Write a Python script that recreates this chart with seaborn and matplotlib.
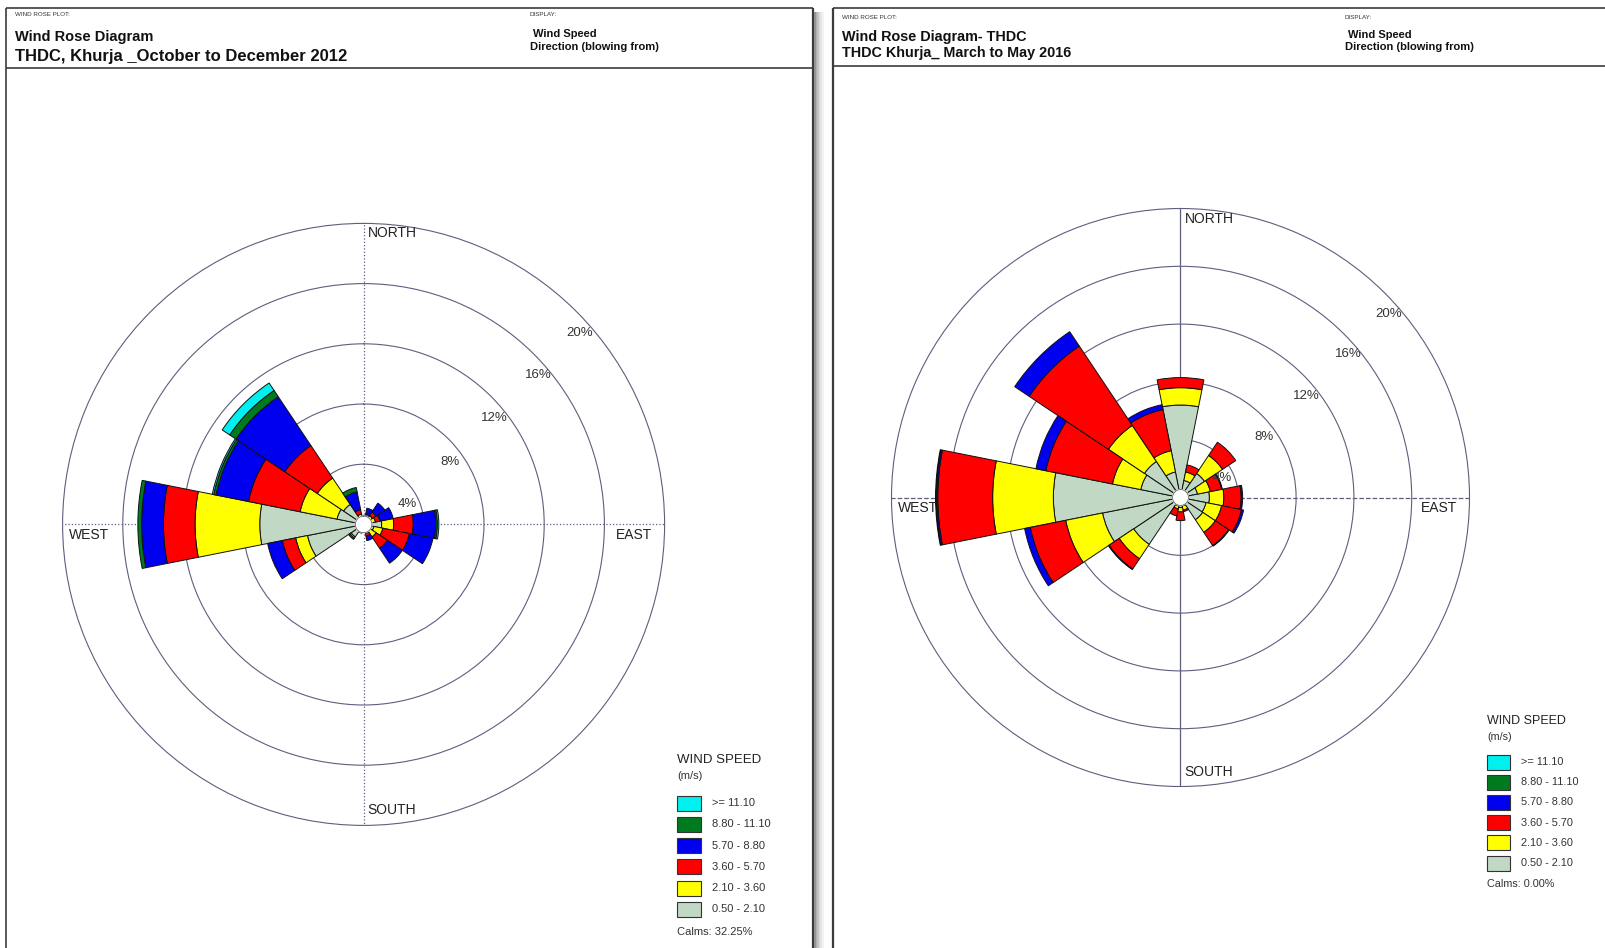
import numpy as np
import matplotlib
matplotlib.use("Agg")
import matplotlib.pyplot as plt
from matplotlib.patches import Rectangle
from matplotlib.lines import Line2D
import seaborn as sns

sns.set_style("white")
plt.rcParams["font.family"] = ["Liberation Sans", "DejaVu Sans"]

# ---------------------------------------------------------------------------
# Data: frequency (%) per 22.5 degree sector, one list per wind-speed class
# ---------------------------------------------------------------------------
directions = ["N", "NNE", "NE", "ENE", "E", "ESE", "SE", "SSE",
              "S", "SSW", "SW", "WSW", "W", "WNW", "NW", "NNW"]

# wind speed classes (m/s), innermost (slowest) first
speed_labels = ["0.50 - 2.10", "2.10 - 3.60", "3.60 - 5.70",
                "5.70 - 8.80", "8.80 - 11.10", ">= 11.10"]
speed_colors = ["#c0d8c4", "#ffff00", "#ff0000", "#0000f0", "#007a1e", "#00f0f0"]

# Khurja, October to December 2012
oct_dec_0_5 = [0.3, 0.3, 0.4, 0.5, 1.2, 0.7, 0.5, 0.4, 0.3, 0.5, 1.0, 3.8, 6.9, 1.8, 1.6, 0.5]
oct_dec_2_1 = [0.1, 0.2, 0.3, 0.3, 0.8, 0.6, 0.5, 0.2, 0.0, 0.1, 0.1, 0.8, 4.3, 2.5, 2.1, 0.2]
oct_dec_3_6 = [0.1, 0.2, 0.3, 0.3, 1.3, 1.8, 0.9, 0.2, 0.0, 0.0, 0.0, 0.9, 2.1, 3.5, 2.6, 0.3]
oct_dec_5_7 = [0.1, 0.4, 0.7, 0.9, 1.5, 1.6, 1.2, 0.3, 0.0, 0.0, 0.0, 1.0, 1.45, 2.2, 3.9, 1.2]
oct_dec_8_8 = [0.0, 0.0, 0.0, 0.0, 0.1, 0.0, 0.0, 0.0, 0.0, 0.0, 0.1, 0.0, 0.25, 0.15, 0.5, 0.3]
oct_dec_11_1 = [0.0, 0.0, 0.0, 0.0, 0.1, 0.0, 0.0, 0.0, 0.0, 0.0, 0.0, 0.0, 0.0, 0.1, 0.6, 0.0]
oct_dec_calms = "32.25%"

# Khurja, March to May 2016
mar_may_0_5 = [6.4, 1.2, 2.0, 1.2, 2.0, 1.8, 1.85, 0.6, 0.7, 0.6, 3.9, 5.5, 8.8, 2.8, 3.0, 1.8]
mar_may_2_1 = [1.2, 0.6, 1.5, 0.9, 1.0, 1.1, 1.05, 0.3, 0.3, 0.2, 1.2, 2.6, 4.2, 2.0, 3.0, 1.5]
mar_may_3_6 = [0.7, 0.5, 1.1, 0.8, 1.2, 1.4, 1.1, 0.1, 0.6, 0.5, 0.85, 2.5, 3.8, 4.7, 6.6, 2.9]
mar_may_5_7 = [0.0, 0.0, 0.0, 0.05, 0.1, 0.15, 0.05, 0.0, 0.0, 0.0, 0.05, 0.4, 0.1, 0.7, 1.2, 0.35]
mar_may_8_8 = [0.0, 0.0, 0.0, 0.0, 0.0, 0.0, 0.0, 0.0, 0.0, 0.0, 0.0, 0.0, 0.05, 0.0, 0.0, 0.0]
mar_may_11_1 = [0.0] * 16
mar_may_calms = "0.00%"

ring_values = [4, 8, 12, 16, 20]
ring_labels = ["4%", "8%", "12%", "16%", "20%"]

# ---------------------------------------------------------------------------
W, H = 1606, 948
fig = plt.figure(figsize=(W / 100, H / 100), dpi=100)
fig.patch.set_facecolor("white")


def fx(px):
    return px / W


def fy(py):
    return 1 - py / H


def fig_line(x0, y0, x1, y1, color="#3c3c3c", lw=1.2):
    fig.add_artist(Line2D([fx(x0), fx(x1)], [fy(y0), fy(y1)], color=color,
                          lw=lw, transform=fig.transFigure, solid_capstyle="butt"))


def fig_text(x, y, s, size, weight="normal", color="#111111", ha="left"):
    fig.text(fx(x), fy(y), s, fontsize=size, fontweight=weight, color=color,
             ha=ha, va="center")


RING_COLOR = "#5e5e7e"


def draw_rose(cx, cy, rad, classes, vert_style, horiz_style):
    ax = fig.add_axes([fx(cx - rad), fy(cy + rad), 2 * rad / W, 2 * rad / H],
                      projection="polar")
    ax.set_theta_zero_location("N")
    ax.set_theta_direction(-1)
    ax.set_facecolor("none")

    theta = np.deg2rad(np.arange(len(directions)) * 22.5)
    width = 2 * np.pi / len(directions)
    bottom = np.zeros(len(directions))
    for vals, color in zip(classes, speed_colors):
        vals = np.asarray(vals, dtype=float)
        m = vals > 0
        ax.bar(theta[m], vals[m], width=width, bottom=bottom[m], color=color,
               edgecolor="#101010", linewidth=0.7, zorder=3)
        bottom += vals

    # calm circle at the centre
    t = np.linspace(0, 2 * np.pi, 200)
    ax.fill(t, np.full_like(t, 0.55), color="white", zorder=5)
    ax.plot(t, np.full_like(t, 0.55), color="#666666", lw=0.6, zorder=6)

    ax.set_ylim(0, ring_values[-1])
    ax.set_yticks(ring_values[:-1])
    ax.set_yticklabels([])
    ax.set_xticks(np.deg2rad([0, 90, 180, 270]))
    ax.set_xticklabels([])
    ax.yaxis.grid(True, color=RING_COLOR, lw=0.8, ls="-")
    ax.xaxis.grid(True, color=RING_COLOR, lw=0.9)
    gl = ax.xaxis.get_gridlines()
    for i, line in enumerate(gl):
        line.set_linestyle(vert_style if i in (0, 2) else horiz_style)
    ax.spines["polar"].set_color(RING_COLOR)
    ax.spines["polar"].set_linewidth(0.8)
    ax.set_axisbelow(True)

    # ring labels along the north-east diagonal
    label_pos = [(65, 0.8), (54, 0.9), (51, 0.8), (49.5, 0.75), (48.5, 0.8)]
    for val, lab, (b, d) in zip(ring_values, ring_labels, label_pos):
        ax.text(np.deg2rad(b), val - d, lab, fontsize=9.5, color="#333333",
                ha="center", va="center", zorder=7)

    # compass labels
    def ax_pos(dx, dy):
        return 0.5 + dx / (2 * rad), 0.5 - dy / (2 * rad)

    kw = dict(transform=ax.transAxes, fontsize=10, color="#222222", va="center")
    x, y = ax_pos(4, -(rad - 10))
    ax.text(x, y, "NORTH", ha="left", **kw)
    x, y = ax_pos(4, rad - 15)
    ax.text(x, y, "SOUTH", ha="left", **kw)
    x, y = ax_pos(-(rad - 6), 11)
    ax.text(x, y, "WEST", ha="left", **kw)
    x, y = ax_pos(rad - 12, 11)
    ax.text(x, y, "EAST", ha="right", **kw)
    return ax


def draw_legend(x0, y_title, y_first, step, box_w, box_h, label_x, calms,
                title_size, label_size):
    fig_text(x0, y_title, "WIND SPEED", title_size, color="#222222")
    fig_text(x0, y_title + 16, "(m/s)", label_size, color="#333333")
    for i, (lab, col) in enumerate(zip(speed_labels[::-1], speed_colors[::-1])):
        yc = y_first + i * step
        fig.add_artist(Rectangle((fx(x0), fy(yc + box_h / 2)), box_w / W, box_h / H,
                                 facecolor=col, edgecolor="#333333", lw=0.8,
                                 transform=fig.transFigure))
        fig_text(label_x, yc, lab, label_size, color="#333333")
    fig_text(x0, y_first + 6 * step + 1, "Calms: " + calms, label_size, color="#333333")


# ---------------------------------------------------------------------------
# Panel frames
# ---------------------------------------------------------------------------
fig_line(6, 8, 6, H)
fig_line(6, 8, 813, 8)
fig_line(813, 8, 813, H, lw=1.6)
fig_line(6, 68, 813, 68)
for k, g in enumerate(["#8a8a8a", "#a8a8a8", "#c2c2c2", "#d6d6d6", "#e6e6e6", "#f2f2f2"]):
    fig_line(815 + 1.6 * k, 12, 815 + 1.6 * k, H, color=g, lw=1.3)

fig_line(833, 8, 833, H, lw=1.6)
fig_line(833, 8, W, 8)
fig_line(833, 66, W, 66)

# Header texts
fig_text(15, 15, "WIND ROSE PLOT:", 4.5, color="#333333")
fig_text(15, 37, "Wind Rose Diagram", 10.5, weight="bold")
fig_text(15, 56.5, "THDC, Khurja _October to December 2012", 12, weight="bold")
fig_text(530, 15, "DISPLAY:", 4.5, color="#333333")
fig_text(533, 34, "Wind Speed", 8, weight="bold")
fig_text(530, 47.5, "Direction (blowing from)", 8, weight="bold")

fig_text(842, 17.5, "WIND ROSE PLOT:", 4.5, color="#333333")
fig_text(842, 37, "Wind Rose Diagram- THDC", 10.4, weight="bold")
fig_text(842, 53.5, "THDC Khurja_ March to May 2016", 10.4, weight="bold")
fig_text(1345, 17.5, "DISPLAY:", 4.5, color="#333333")
fig_text(1348, 35, "Wind Speed", 8, weight="bold")
fig_text(1345, 47.5, "Direction (blowing from)", 8, weight="bold")

# ---------------------------------------------------------------------------
# Roses
# ---------------------------------------------------------------------------
draw_rose(363.6, 524.4, 301,
          [oct_dec_0_5, oct_dec_2_1, oct_dec_3_6, oct_dec_5_7, oct_dec_8_8, oct_dec_11_1],
          vert_style=":", horiz_style=":")
draw_rose(1180.5, 497.5, 289,
          [mar_may_0_5, mar_may_2_1, mar_may_3_6, mar_may_5_7, mar_may_8_8, mar_may_11_1],
          vert_style="-", horiz_style="--")

draw_legend(677, 760, 803, 21.3, 24, 15, 712, oct_dec_calms, 9.5, 8)
draw_legend(1487, 721, 762, 20.2, 23, 15, 1521, mar_may_calms, 9, 7.8)

fig.savefig("out.png", dpi=100, facecolor="white")
